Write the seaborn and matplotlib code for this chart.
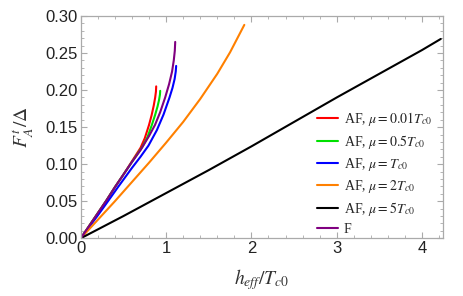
import numpy as np
import pandas as pd
import matplotlib
matplotlib.use("Agg")
import matplotlib.pyplot as plt
from matplotlib.ticker import MultipleLocator, FormatStrFormatter
import seaborn as sns

# data (h_eff/Tc0, F_A^t/Delta)
red_x = [0, 0.1, 0.2, 0.3, 0.4, 0.5, 0.6, 0.65, 0.7, 0.75, 0.8, 0.83, 0.855, 0.872, 0.881, 0.884]
red_y = [0, 0.017, 0.034, 0.051, 0.069, 0.086, 0.104, 0.113, 0.122, 0.135, 0.153, 0.166, 0.179, 0.190, 0.198, 0.205]
green_x = [0, 0.1, 0.2, 0.3, 0.4, 0.5, 0.6, 0.66, 0.72, 0.78, 0.83, 0.87, 0.9, 0.918, 0.928, 0.931]
green_y = [0, 0.017, 0.034, 0.051, 0.069, 0.086, 0.103, 0.113, 0.123, 0.136, 0.152, 0.166, 0.178, 0.187, 0.194, 0.199]
blue_x = [0, 0.1, 0.2, 0.3, 0.44, 0.6, 0.7, 0.793, 0.892, 0.97, 1.04, 1.075, 1.1, 1.113, 1.118]
blue_y = [0, 0.0155, 0.031, 0.047, 0.0697, 0.095, 0.110, 0.125, 0.146, 0.167, 0.19, 0.203, 0.215, 0.225, 0.2326]
orange_x = [0, 0.2, 0.4, 0.6, 0.8, 1.0, 1.2, 1.4, 1.6, 1.75, 1.917]
orange_y = [0, 0.025, 0.050, 0.076, 0.102, 0.129, 0.157, 0.188, 0.222, 0.251, 0.288]
black_x = [0, 0.5, 1.0, 1.5, 2.0, 2.5, 3.0, 3.5, 4.0, 4.22]
black_y = [0, 0.030, 0.061, 0.092, 0.124, 0.157, 0.190, 0.222, 0.254, 0.269]
purple_x = [0, 0.1, 0.2, 0.3, 0.4, 0.5, 0.6, 0.7, 0.8, 0.87, 0.93, 0.989, 1.035, 1.07, 1.09, 1.102, 1.107]
purple_y = [0, 0.017, 0.034, 0.051, 0.069, 0.086, 0.103, 0.119, 0.138, 0.153, 0.170, 0.190, 0.208, 0.225, 0.240, 0.253, 0.265]

labels = [r"AF, $\mu=0.01T_{c0}$", r"AF, $\mu=0.5T_{c0}$", r"AF, $\mu=T_{c0}$",
          r"AF, $\mu=2T_{c0}$", r"AF, $\mu=5T_{c0}$", "F"]
colors = ["#ff0000", "#00e000", "#0000ff", "#ff8000", "#000000", "#800080"]
xs = [red_x, green_x, blue_x, orange_x, black_x, purple_x]
ys = [red_y, green_y, blue_y, orange_y, black_y, purple_y]

sns.set_style("ticks")
plt.rcParams["mathtext.fontset"] = "stix"
plt.rcParams["font.family"] = ["Liberation Sans", "DejaVu Sans"]

fig = plt.figure(figsize=(4.63, 2.96), dpi=100)
ax = fig.add_axes([0.1745, 0.195, 0.783, 0.751])

for x, y, c, lab in zip(xs, ys, colors, labels):
    sns.lineplot(x=x, y=y, color=c, label=lab, linewidth=1.5, sort=False,
                 estimator=None, ax=ax)

ax.set_xlim(0, 4.25)
ax.set_ylim(0, 0.30)
ax.xaxis.set_major_locator(MultipleLocator(1))
ax.xaxis.set_minor_locator(MultipleLocator(0.2))
ax.yaxis.set_major_locator(MultipleLocator(0.05))
ax.yaxis.set_minor_locator(MultipleLocator(0.01))
ax.yaxis.set_major_formatter(FormatStrFormatter("%.2f"))
ax.tick_params(which="both", direction="in", top=True, right=True,
               color="#aaaaaa", labelsize=12, labelcolor="#222222")
ax.tick_params(which="major", length=4, width=0.8, pad=2)
ax.tick_params(which="minor", length=2, width=0.6)
for s in ax.spines.values():
    s.set_color("#aaaaaa")
    s.set_linewidth(0.9)

ax.set_xlabel(r"$h_{eff}/T_{c0}$", fontsize=14, color="#333333", labelpad=8)
ax.set_ylabel(r"$F^t_A/\Delta$", fontsize=14, color="#333333", labelpad=8)

leg = ax.legend(loc="lower left", bbox_to_anchor=(0.636, -0.016), frameon=False,
                handlelength=1.5, handletextpad=0.45, labelspacing=0.36,
                borderaxespad=0.0,
                prop={"family": "Liberation Serif", "size": 10})

fig.savefig("out.png", dpi=100)
